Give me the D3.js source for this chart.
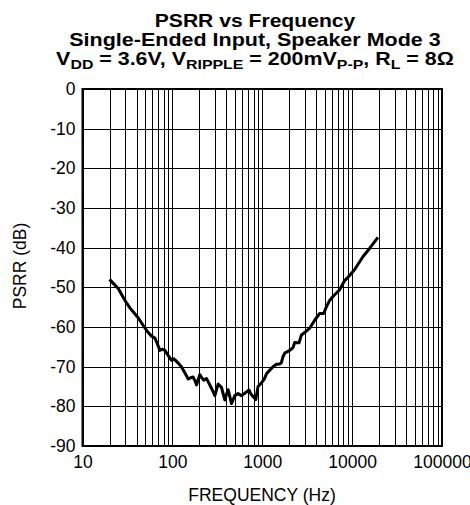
<!DOCTYPE html>
<html>
<head>
<meta charset="utf-8">
<script src="https://cdn.jsdelivr.net/npm/d3@7"></script>
<style>
  html, body { margin: 0; padding: 0; background: #fff; }
  svg { display: block; font-family: "Liberation Sans", Arial, sans-serif; }
</style>
</head>
<body>
<svg id="chart" width="470" height="505"></svg>
<script>
// Measured PSRR curve: frequency (Hz) and rejection (dB)
const freqHz = [20, 22, 25, 28, 31, 34, 37, 42, 47, 53, 58.7, 64, 68, 72.6, 77, 82.6, 90, 98, 103, 107, 116, 126, 138, 150, 160, 170, 178, 186, 194, 202, 212, 224, 240, 257, 273, 297, 310, 323, 352, 383, 400, 417, 435, 455, 495, 538, 587, 640, 713, 758, 847, 898, 977, 1050, 1114, 1200, 1318, 1438, 1560, 1633, 1700, 1778, 2023, 2200, 2297, 2566, 2728, 2965, 3370, 3830, 4354, 4820, 5160, 5620, 6120, 7260, 8260, 9380, 10670, 13180, 15630, 19360];
const psrrDb = [-48.0, -49.0, -50.3, -52.3, -54.0, -55.3, -56.3, -57.8, -59.5, -61.2, -62.3, -62.8, -64.2, -65.9, -65.6, -65.9, -67.2, -68.4, -68.0, -68.3, -69.1, -70.0, -71.6, -73.1, -72.8, -72.6, -73.5, -74.6, -73.2, -72.0, -72.8, -73.4, -73.0, -74.3, -75.5, -77.3, -75.8, -74.4, -75.2, -78.4, -77.0, -75.8, -77.5, -79.3, -77.3, -76.8, -77.3, -76.7, -75.9, -77.1, -78.3, -75.0, -74.1, -73.2, -71.8, -71.0, -70.0, -69.4, -69.3, -69.0, -67.5, -66.6, -65.9, -65.2, -63.9, -64.0, -62.0, -61.4, -60.3, -58.3, -56.6, -56.6, -55.0, -53.3, -52.3, -50.6, -48.3, -47.0, -45.5, -42.3, -40.2, -37.4];

// Axis ticks
const xTickValues = [10, 100, 1000, 10000, 100000];
const xTickLabels = ["10", "100", "1000", "10000", "100000"];
const yTickValues = [0, -10, -20, -30, -40, -50, -60, -70, -80, -90];
const yTickLabels = ["0", "-10", "-20", "-30", "-40", "-50", "-60", "-70", "-80", "-90"];

const svg = d3.select("#chart");
const plot = { left: 82.5, right: 442, top: 89, bottom: 446 };

const x = d3.scaleLog().domain([10, 100000]).range([plot.left, plot.right]);
const y = d3.scaleLinear().domain([-90, 0]).range([plot.bottom, plot.top]);

// Title block (wide bold face: glyphs stretched horizontally about the centre)
const titleCx = 255;
const title = svg.append("g")
  .attr("font-weight", "bold")
  .attr("font-size", 17.5)
  .attr("text-anchor", "middle")
  .attr("fill", "#000");
const t1 = title.append("text").attr("x", titleCx).attr("y", 27).text("PSRR vs Frequency");
const t2 = title.append("text").attr("x", titleCx).attr("y", 46).text("Single-Ended Input, Speaker Mode 3");
const t3 = title.append("text").attr("x", titleCx).attr("y", 65);
function seg(txt, shift) {
  t3.append("tspan")
    .attr("font-size", shift === 1 ? 13 : 17.5)
    .attr("dy", shift === 1 ? 4 : shift === -1 ? -4 : 0)
    .text(txt);
}
seg("V"); seg("DD", 1); seg(" = 3.6V, V", -1); seg("RIPPLE", 1); seg(" = 200mV", -1);
seg("P-P", 1); seg(", R", -1); seg("L", 1); seg(" = 8Ω", -1);

function stretch(sel, width) {
  const w = sel.node().getBBox().width;
  const s = width / w;
  sel.attr("transform", `translate(${titleCx},0) scale(${s},1) translate(${-titleCx},0)`);
}
stretch(t1, 201);
stretch(t2, 372);
stretch(t3, 398);

// Grid: every decade subdivision on x, every 10 dB on y
const minorX = [];
for (let d = 10; d < 100000; d *= 10) {
  for (let k = 1; k <= 9; k++) minorX.push(d * k);
}
minorX.push(100000);

const grid = svg.append("g").attr("stroke", "#000").attr("stroke-width", 1).attr("shape-rendering", "crispEdges");
grid.selectAll("line.vx").data(minorX).join("line")
  .attr("x1", d => Math.round(x(d)) + 0.5).attr("x2", d => Math.round(x(d)) + 0.5)
  .attr("y1", plot.top).attr("y2", plot.bottom);
grid.selectAll("line.hy").data(yTickValues).join("line")
  .attr("x1", plot.left).attr("x2", plot.right)
  .attr("y1", d => Math.round(y(d)) + 0.5).attr("y2", d => Math.round(y(d)) + 0.5);

// Frame
svg.append("rect")
  .attr("x", plot.left).attr("y", plot.top)
  .attr("width", plot.right - plot.left).attr("height", plot.bottom - plot.top)
  .attr("fill", "none").attr("stroke", "#000").attr("stroke-width", 2);

// Axes (labels only)
const xAxis = d3.axisBottom(x).tickValues(xTickValues)
  .tickFormat((d, i) => xTickLabels[i]).tickSize(0).tickPadding(10);
svg.append("g").attr("transform", `translate(0,${plot.bottom})`).call(xAxis)
  .call(g => g.select(".domain").remove())
  .selectAll("text").attr("font-size", 17.5).attr("font-family", "Liberation Sans, Arial, sans-serif").attr("fill", "#000");

const yAxis = d3.axisLeft(y).tickValues(yTickValues)
  .tickFormat((d, i) => yTickLabels[i]).tickSize(0).tickPadding(7);
svg.append("g").attr("transform", `translate(${plot.left},0)`).call(yAxis)
  .call(g => g.select(".domain").remove())
  .selectAll("text").attr("font-size", 17.5).attr("font-family", "Liberation Sans, Arial, sans-serif").attr("fill", "#000");

// Axis titles
svg.append("text")
  .attr("x", 262).attr("y", 501)
  .attr("text-anchor", "middle").attr("font-size", 17.5)
  .text("FREQUENCY (Hz)");
svg.append("text")
  .attr("transform", "translate(25.5,266) rotate(-90)")
  .attr("text-anchor", "middle").attr("font-size", 17.5)
  .text("PSRR (dB)");

// Curve
const pts = freqHz.map((f, i) => [f, psrrDb[i]]);
svg.append("path")
  .datum(pts)
  .attr("fill", "none").attr("stroke", "#000").attr("stroke-width", 3)
  .attr("stroke-linejoin", "round")
  .attr("d", d3.line().x(d => x(d[0])).y(d => y(d[1])));
</script>
</body>
</html>
